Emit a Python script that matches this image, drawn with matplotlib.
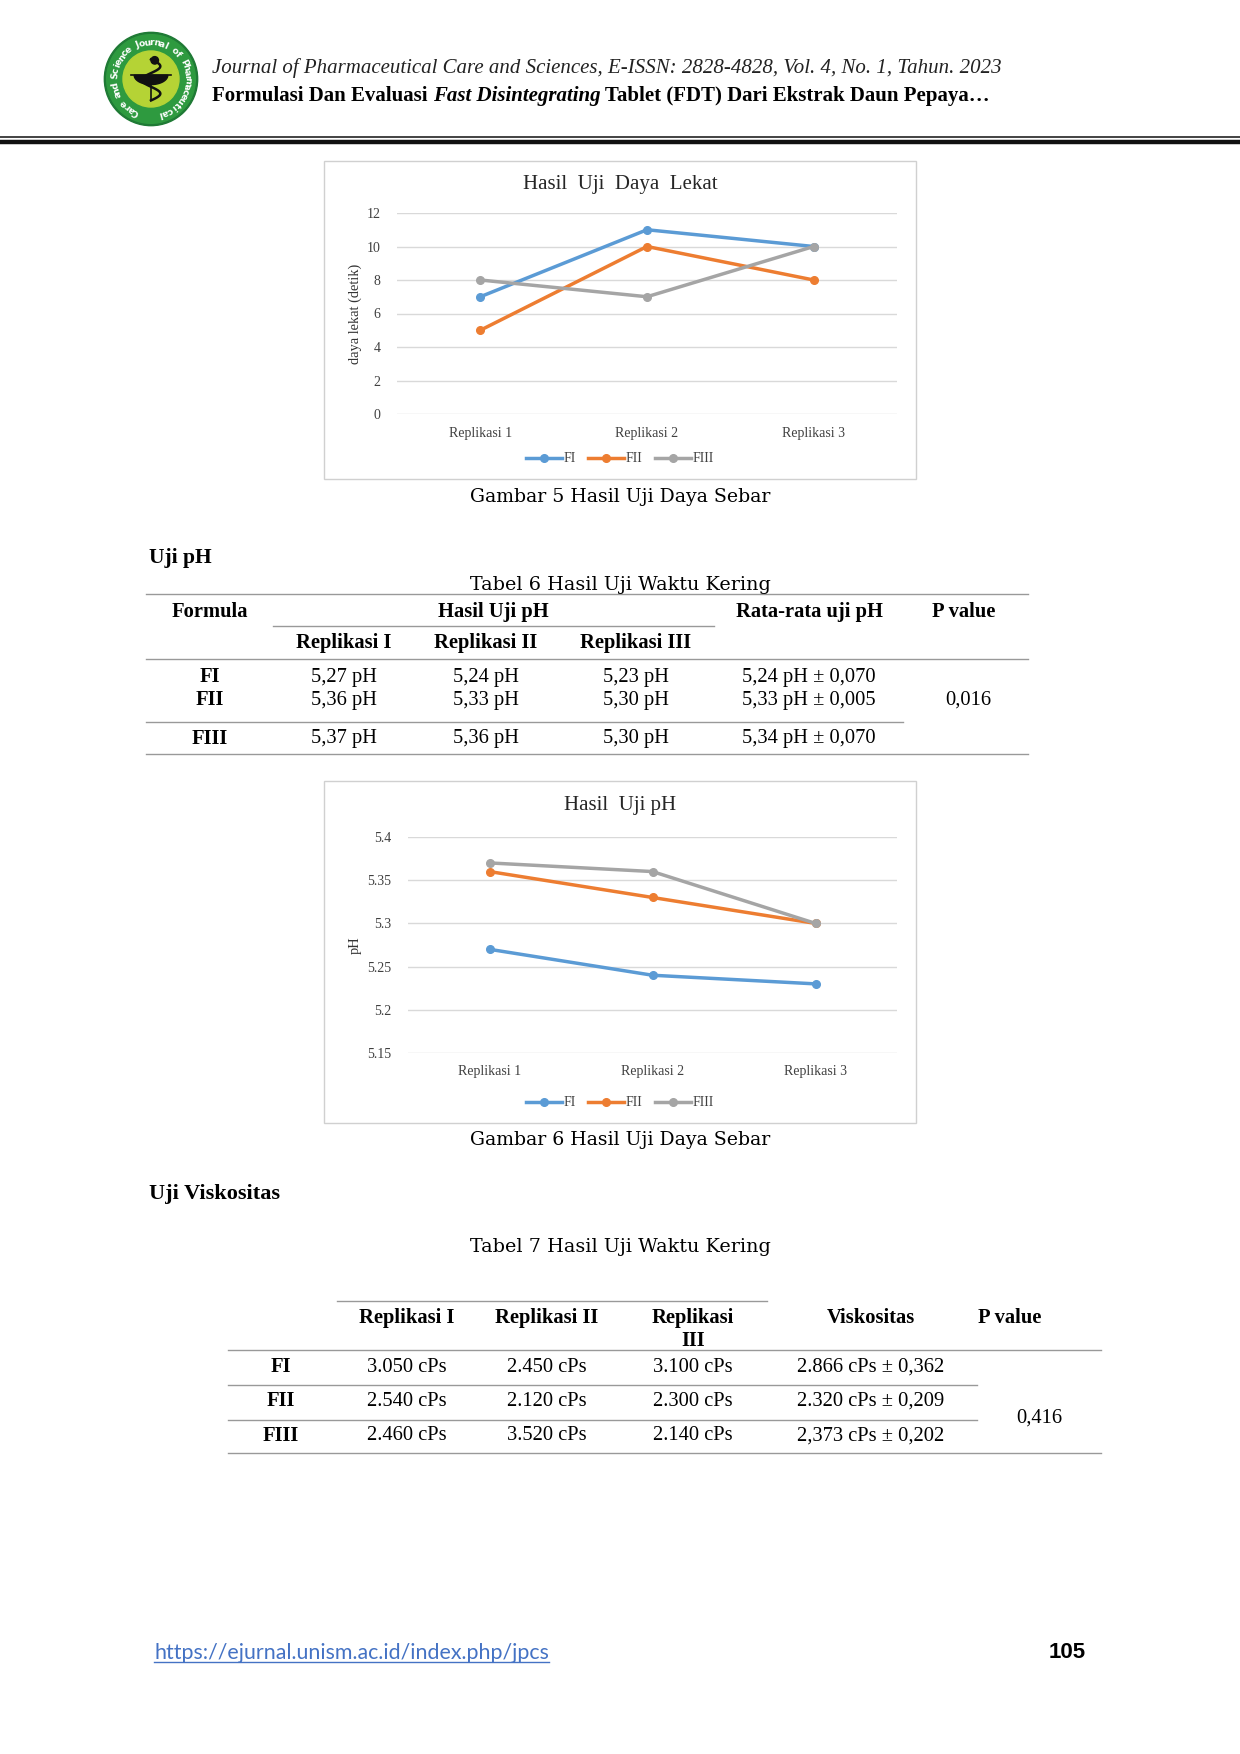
import numpy as np
import matplotlib
matplotlib.use("Agg")
import matplotlib.pyplot as plt
from matplotlib.patches import Rectangle, Circle
from matplotlib.lines import Line2D

W, H = 1240, 1754

# chart data
categories = ["Replikasi 1", "Replikasi 2", "Replikasi 3"]
series_names = ["FI", "FII", "FIII"]
lekat_fi = [7, 11, 10]
lekat_fii = [5, 10, 8]
lekat_fiii = [8, 7, 10]
ph_fi = [5.27, 5.24, 5.23]
ph_fii = [5.36, 5.33, 5.30]
ph_fiii = [5.37, 5.36, 5.30]
lekat_ticks = [0, 2, 4, 6, 8, 10, 12]
ph_ticks = [5.15, 5.2, 5.25, 5.3, 5.35, 5.4]
ph_tick_labels = ["5.15", "5.2", "5.25", "5.3", "5.35", "5.4"]

# table 6
t6_formula = ["FI", "FII", "FIII"]
t6_rep1 = ["5,27 pH", "5,36 pH", "5,37 pH"]
t6_rep2 = ["5,24 pH", "5,33 pH", "5,36 pH"]
t6_rep3 = ["5,23 pH", "5,30 pH", "5,30 pH"]
t6_mean = ["5,24 pH \u00b1 0,070", "5,33 pH \u00b1 0,005", "5,34 pH \u00b1 0,070"]
t6_p = "0,016"

# table 7
t7_formula = ["FI", "FII", "FIII"]
t7_rep1 = ["3.050 cPs", "2.540 cPs", "2.460 cPs"]
t7_rep2 = ["2.450 cPs", "2.120 cPs", "3.520 cPs"]
t7_rep3 = ["3.100 cPs", "2.300 cPs", "2.140 cPs"]
t7_mean = ["2.866 cPs \u00b1 0,362", "2.320 cPs \u00b1 0,209", "2,373 cPs \u00b1 0,202"]
t7_p = "0,416"

colors = ["#5B9BD5", "#ED7D31", "#A5A5A5"]
SERIF = "Liberation Serif"
CAP = "DejaVu Serif"

fig = plt.figure(figsize=(W / 100, H / 100), dpi=100)
fig.patch.set_facecolor("white")


def fx(x):
    return x / W


def fy(y):
    return 1 - y / H


def txt(x, y, s, size=13, ha="center", va="center", family=SERIF, **kw):
    # small downward nudge so the visual centre of the glyphs lands on y
    return fig.text(fx(x), fy(y + 3), s, fontsize=size, ha=ha, va=va, family=family, **kw)


def hline(x0, x1, y, lw=1.0, color="#999999"):
    fig.add_artist(Line2D([fx(x0), fx(x1)], [fy(y), fy(y)], lw=lw, color=color,
                          transform=fig.transFigure))


# ---- logo ----
cx, cy, r = 151, 79, 47
lax = fig.add_axes([fx(cx - r - 2), fy(cy + r + 2), fx(2 * r + 4), (2 * r + 4) / H])
lax.set_xlim(-1.05, 1.05)
lax.set_ylim(-1.05, 1.05)
lax.set_aspect("equal")
lax.axis("off")
lax.add_patch(Circle((0, 0), 1.0, color="#1F7A35"))
lax.add_patch(Circle((0, 0), 0.95, color="#2E9A3F"))
lax.add_patch(Circle((0, 0), 0.60, color="#B5D335"))
ring = "Care and Science Journal of Pharmaceutical"
angs = np.linspace(245, -75, len(ring))
for ch, a in zip(ring, angs):
    ar = np.deg2rad(a)
    lax.text(0.775 * np.cos(ar), 0.775 * np.sin(ar), ch, rotation=a - 90,
             ha="center", va="center", fontsize=6.6, color="white",
             fontweight="bold", family="DejaVu Sans")
# bowl + snake
tt = np.linspace(np.pi, 2 * np.pi, 30)
lax.fill(0.36 * np.cos(tt), 0.08 + 0.2 * np.sin(tt), color="#111111")
lax.plot([-0.42, 0.42], [0.08, 0.08], color="#111111", lw=1.2)
lax.plot([0, 0], [-0.12, -0.45], color="#111111", lw=1.2)
s = np.linspace(0, 1, 60)
lax.plot(0.2 * np.sin(s * 3 * np.pi), 0.42 - 0.88 * s, color="#111111", lw=1.8)
lax.add_patch(Circle((0.08, 0.4), 0.08, color="#111111"))

# ---- header ----
txt(212, 65, "Journal of Pharmaceutical Care and Sciences, E-ISSN: 2828-4828, Vol. 4, No. 1, Tahun. 2023",
    size=15, ha="left", style="italic", color="#222222")
renderer = fig.canvas.get_renderer()
parts = [("Formulasi Dan Evaluasi ", "normal"), ("Fast Disintegrating", "italic"),
         (" Tablet (FDT) Dari Ekstrak Daun Pepaya\u2026", "normal")]
xpos = 212
for s_, st in parts:
    t = txt(xpos, 93, s_, size=15, ha="left", fontweight="bold", style=st)
    bb = t.get_window_extent(renderer)
    xpos += bb.width
hline(0, W, 137, lw=1.2, color="#222222")
hline(0, W, 142, lw=3.2, color="#111111")


# ---- charts ----
def line_chart(box, area, ylim, ticks, ticklabels, title, ylabel, series, ylab_x):
    bx0, by0, bx1, by1 = box
    fig.add_artist(Rectangle((fx(bx0), fy(by1)), fx(bx1 - bx0), (by1 - by0) / H,
                             transform=fig.transFigure, fill=False, ec="#D0D0D0", lw=1.0))
    x0, ytop, x1, ybot = area
    ax = fig.add_axes([fx(x0), fy(ybot), fx(x1 - x0), (ybot - ytop) / H])
    xs = np.arange(len(categories))
    for vals, c, name in zip(series, colors, series_names):
        ax.plot(xs, vals, color=c, lw=2.5, marker="o", ms=5.5, label=name)
    ax.set_xlim(-0.5, len(categories) - 0.5)
    ax.set_ylim(*ylim)
    ax.set_yticks(ticks)
    ax.set_yticklabels(ticklabels, fontsize=10, family=SERIF, color="#404040")
    ax.set_xticks(xs)
    ax.set_xticklabels(categories, fontsize=10, family=SERIF, color="#404040")
    ax.tick_params(length=0, axis="y", pad=12)
    ax.tick_params(length=0, axis="x", pad=9)
    ax.grid(axis="y", color="#D9D9D9", lw=1.0)
    ax.set_axisbelow(True)
    for sp in ax.spines.values():
        sp.set_visible(False)
    txt((bx0 + bx1) / 2, by0 + 21, title, size=15, family=SERIF, color="#262626")
    txt(ylab_x, (ytop + ybot) / 2 - 3, ylabel, size=10.4, family=SERIF, rotation=90, color="#333333")
    handles = [Line2D([0], [0], color=c, lw=2.5, marker="o", ms=5.5) for c in colors]
    fig.legend(handles, series_names, loc="center", ncol=3, frameon=False,
               bbox_to_anchor=(fx((bx0 + bx1) / 2), fy(by1 - 20)),
               prop={"family": SERIF, "size": 10}, handlelength=2.6,
               handletextpad=0.1, columnspacing=0.9, labelcolor="#404040")
    return ax


line_chart((324, 161, 916, 479), (397, 213, 897, 414), (0, 12), lekat_ticks,
           [str(v) for v in lekat_ticks], "Hasil  Uji  Daya  Lekat", "daya lekat (detik)",
           [lekat_fi, lekat_fii, lekat_fiii], 355)
txt(620, 494, "Gambar 5 Hasil Uji Daya Sebar", size=13.6, family=CAP)

line_chart((324, 781, 916, 1123), (408, 837, 897, 1053), (5.15, 5.4), ph_ticks,
           ph_tick_labels, "Hasil  Uji pH", "pH", [ph_fi, ph_fii, ph_fiii], 355)
txt(620, 1137, "Gambar 6 Hasil Uji Daya Sebar", size=13.6, family=CAP)

# ---- table 6 ----
TS = 14.8
txt(149, 555, "Uji pH", size=15.5, ha="left", fontweight="bold")
txt(620, 582, "Tabel 6 Hasil Uji Waktu Kering", size=13.8, family=CAP)
hline(146, 1028, 594, lw=1.0)
txt(210, 609, "Formula", size=TS, fontweight="bold")
txt(493, 609, "Hasil Uji pH", size=TS, fontweight="bold")
txt(809, 609, "Rata-rata uji pH", size=TS, fontweight="bold")
txt(964, 609, "P value", size=TS, fontweight="bold")
hline(273, 714, 626, lw=1.0)
txt(344, 640, "Replikasi I", size=TS, fontweight="bold")
txt(486, 640, "Replikasi II", size=TS, fontweight="bold")
txt(636, 640, "Replikasi III", size=TS, fontweight="bold")
hline(146, 1028, 659, lw=1.0)
for i, yy in enumerate([674, 697, 736]):
    txt(210, yy, t6_formula[i], size=TS, fontweight="bold")
    txt(344, yy, t6_rep1[i], size=TS)
    txt(486, yy, t6_rep2[i], size=TS)
    txt(636, yy, t6_rep3[i], size=TS)
    txt(809, yy, t6_mean[i], size=TS)
txt(968, 697, t6_p, size=TS)
hline(146, 903, 722, lw=1.0)
hline(146, 1028, 754, lw=1.0)

# ---- table 7 ----
txt(149, 1191, "Uji Viskositas", size=16, ha="left", fontweight="bold")
txt(620, 1244, "Tabel 7 Hasil Uji Waktu Kering", size=13.8, family=CAP)
hline(337, 767, 1301, lw=1.0)
txt(407, 1315, "Replikasi I", size=TS, fontweight="bold")
txt(547, 1315, "Replikasi II", size=TS, fontweight="bold")
txt(693, 1315, "Replikasi", size=TS, fontweight="bold")
txt(693, 1338, "III", size=TS, fontweight="bold")
txt(871, 1315, "Viskositas", size=TS, fontweight="bold")
txt(1010, 1315, "P value", size=TS, fontweight="bold")
hline(228, 1101, 1350, lw=1.0)
for i, yy in enumerate([1364, 1398, 1433]):
    txt(281, yy, t7_formula[i], size=TS, fontweight="bold")
    txt(407, yy, t7_rep1[i], size=TS)
    txt(547, yy, t7_rep2[i], size=TS)
    txt(693, yy, t7_rep3[i], size=TS)
    txt(871, yy, t7_mean[i], size=TS)
txt(1039, 1415, t7_p, size=TS)
hline(228, 977, 1385, lw=1.0)
hline(228, 977, 1420, lw=1.0)
hline(228, 1101, 1453, lw=1.0)

# ---- footer ----
link = txt(154, 1650, "https://ejurnal.unism.ac.id/index.php/jpcs", size=15.4, ha="left",
           family="Lato", color="#4472C4")
bb = link.get_window_extent(renderer)
hline(154, 154 + bb.width, 1662, lw=1.0, color="#4472C4")
txt(1067, 1650, "105", size=16, family="Liberation Sans", fontweight="bold")

fig.savefig("out.png", dpi=100, facecolor="white")
